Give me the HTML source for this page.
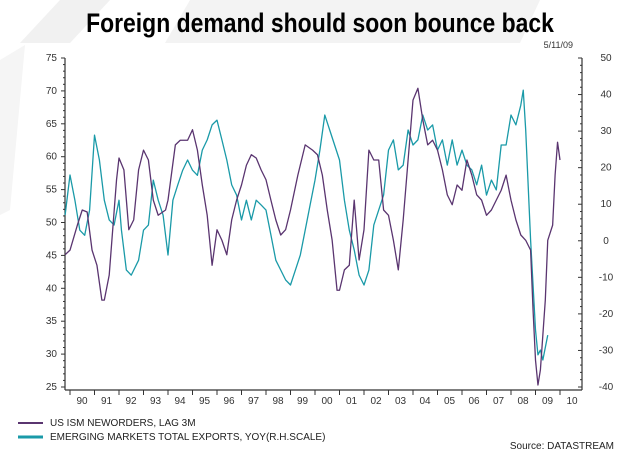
<!DOCTYPE html>
<html><head><meta charset="utf-8"><style>
body{margin:0;background:#fff;width:640px;height:454px;overflow:hidden;font-family:"Liberation Sans",sans-serif}
</style></head><body>
<svg width="640" height="454" xmlns="http://www.w3.org/2000/svg">
<polygon points="60,0 110,0 70,43 20,43" fill="#f1f1f1"/>
<polygon points="190,0 540,0 520,43 165,43" fill="#f3f3f3"/>
<polygon points="0,60 25,45 10,210 0,215" fill="#f5f5f5"/>
<text x="320" y="32" text-anchor="middle" font-size="27" font-family="Liberation Sans Narrow, Liberation Sans, sans-serif" font-weight="bold" transform="translate(320,0) scale(0.85,1) translate(-320,0)">Foreign demand should soon bounce back</text>
<text x="573" y="48" text-anchor="end" font-size="9" fill="#333">5/11/09</text>
<g id="axes"></g>
<g id="lines"></g>
<line x1="18" y1="423" x2="43" y2="423" stroke="#5a3570" stroke-width="2"/>
<text x="50" y="426" font-size="10" fill="#222">US ISM NEWORDERS, LAG 3M</text>
<line x1="18" y1="437" x2="43" y2="437" stroke="#1a9aa8" stroke-width="3"/>
<text x="50" y="440" font-size="10" fill="#222">EMERGING MARKETS TOTAL EXPORTS, YOY(R.H.SCALE)</text>
<text x="614" y="449" text-anchor="end" font-size="10" fill="#222">Source: DATASTREAM</text>
</svg>
<script>
const leftTicks=[25,30,35,40,45,50,55,60,65,70,75];
const rightTicks=[-40,-30,-20,-10,0,10,20,30,40,50];
const yearLabels=["90","91","92","93","94","95","96","97","98","99","00","01","02","03","04","05","06","07","08","09","10"];
const ismDates=[1989.8,1990,1990.3,1990.5,1990.7,1990.9,1991.1,1991.3,1991.4,1991.6,1991.9,1992,1992.2,1992.4,1992.6,1992.8,1993,1993.2,1993.4,1993.6,1993.9,1994,1994.3,1994.5,1994.8,1995,1995.2,1995.4,1995.6,1995.8,1996,1996.2,1996.4,1996.6,1996.8,1997,1997.2,1997.4,1997.6,1997.8,1998,1998.2,1998.4,1998.6,1998.8,1999,1999.3,1999.6,1999.9,2000.1,2000.3,2000.5,2000.7,2000.9,2001,2001.2,2001.4,2001.6,2001.8,2002,2002.2,2002.4,2002.6,2002.8,2003,2003.2,2003.4,2003.6,2003.8,2004,2004.2,2004.4,2004.6,2004.8,2005,2005.2,2005.4,2005.6,2005.8,2006,2006.2,2006.4,2006.6,2006.8,2007,2007.2,2007.4,2007.6,2007.8,2008,2008.2,2008.4,2008.6,2008.8,2008.9,2009,2009.1,2009.2,2009.4,2009.5,2009.7,2009.8,2009.9,2010];
const ismValues=[45.1,45.8,49.6,51.9,51.6,45.8,43.5,38.2,38.2,42.0,56.5,59.8,58.0,48.9,50.4,58.0,61.0,59.5,53.4,51.1,51.9,53.4,61.8,62.5,62.5,64.1,61.0,55.7,51.1,43.5,48.9,47.3,45.1,50.4,53.4,55.7,58.7,60.3,59.8,58.0,56.5,53.4,50.4,48.1,48.9,51.9,57.2,61.8,61.0,60.3,57.2,51.9,47.3,39.7,39.7,42.8,43.5,53.4,44.3,48.9,61.0,59.5,59.5,51.9,51.1,47.3,42.8,50.4,59.5,68.6,70.4,65.6,61.8,62.5,61.0,58.0,54.2,52.7,55.7,54.9,59.5,57.2,54.2,53.4,51.1,51.9,53.4,54.9,57.2,53.4,50.4,48.1,47.3,45.8,36.7,29.1,25.3,27.6,38.2,47.3,49.6,57.2,62.2,59.5];
const expDates=[1989.8,1990,1990.2,1990.4,1990.6,1990.8,1991,1991.2,1991.4,1991.6,1991.8,1992,1992.1,1992.3,1992.5,1992.8,1993,1993.2,1993.4,1993.6,1993.8,1994,1994.2,1994.4,1994.6,1994.8,1995,1995.2,1995.4,1995.6,1995.8,1996,1996.2,1996.4,1996.6,1996.8,1997,1997.2,1997.4,1997.6,1997.8,1998,1998.2,1998.4,1998.6,1998.8,1999,1999.2,1999.4,1999.6,1999.8,2000,2000.2,2000.4,2000.6,2000.8,2001,2001.2,2001.4,2001.6,2001.8,2002,2002.2,2002.4,2002.6,2002.8,2003,2003.2,2003.4,2003.6,2003.8,2004,2004.2,2004.4,2004.6,2004.8,2005,2005.2,2005.4,2005.6,2005.8,2006,2006.2,2006.4,2006.6,2006.8,2007,2007.2,2007.4,2007.6,2007.8,2008,2008.2,2008.4,2008.5,2008.6,2008.8,2009,2009.1,2009.2,2009.3,2009.5];
const expValues=[7.0,18.0,11.1,2.9,1.5,8.4,28.9,22.1,11.1,5.7,4.3,11.1,2.9,-8.0,-9.4,-5.3,2.9,4.3,16.6,11.1,7.0,-3.9,11.1,15.3,19.3,22.1,19.3,17.9,24.8,27.6,31.7,33.0,27.6,22.1,15.3,12.5,5.7,11.1,5.7,11.1,9.8,8.4,1.6,-5.3,-8.0,-10.7,-12.1,-8.0,-3.9,2.9,9.8,16.6,24.8,34.4,30.3,26.2,22.1,11.1,2.9,-2.5,-9.4,-12.1,-8.0,4.3,8.4,12.5,24.8,27.6,19.4,20.7,30.3,26.2,27.6,34.4,30.3,31.7,24.8,27.6,20.7,27.6,20.7,24.8,20.7,19.4,15.3,20.7,12.5,16.6,13.9,26.2,26.2,34.4,31.7,37.1,41.2,30.3,0.2,-24.4,-31.2,-29.9,-32.6,-25.8];

const NS="http://www.w3.org/2000/svg";
const X0=65,X1=582,YT=58,YB=387;
const xs=d=>70+(d-1990)*24.5;
const yl=v=>YB-(v-25)*(YB-YT)/50;
const yr=v=>YB-(v+40)*(YB-YT)/90;
function mk(tag,attrs,parent){const e=document.createElementNS(NS,tag);for(const k in attrs)e.setAttribute(k,attrs[k]);parent.appendChild(e);return e;}
const ax=document.getElementById('axes');
const la=mk('line',{x1:X0,y1:YT,x2:X0,y2:YB+3,stroke:'#333','stroke-width':1.2},ax);


const ra=mk('line',{x1:X1,y1:YT,x2:X1,y2:YB+3,stroke:'#333','stroke-width':1.2},ax);


const ba=mk('line',{x1:X0,y1:YB+3,x2:X1,y2:YB+3,stroke:'#333','stroke-width':1.2},ax);


for(let v=25;v<=75;v++){mk('line',{x1:X0,y1:yl(v),x2:X0-(v%5?2:4),y2:yl(v),stroke:'#333','stroke-width':1},ax);}
leftTicks.forEach(v=>{const t=mk('text',{x:X0-8,y:yl(v)+3,'text-anchor':'end','font-size':10,fill:'#333'},ax);t.textContent=v;

});
for(let v=-40;v<=50;v+=2){mk('line',{x1:X1,y1:yr(v),x2:X1-(v%10?2:4),y2:yr(v),stroke:'#333','stroke-width':1},ax);}
rightTicks.forEach(v=>{const t=mk('text',{x:X1+24,y:yr(v)+3,'text-anchor':'middle','font-size':10,fill:'#333'},ax);t.textContent=v;

});
yearLabels.forEach((s,i)=>{const x=xs(1990+i);mk('line',{x1:x,y1:YB+3,x2:x,y2:YB+8,stroke:'#333'},ax);
const t=mk('text',{x:x+12,y:YB+17,'text-anchor':'middle','font-size':10,fill:'#333'},ax);t.textContent=s;

});
const lg=document.getElementById('lines');
const ep=mk('polyline',{points:expDates.map((d,i)=>xs(d)+','+yr(expValues[i])).join(' '),fill:'none',stroke:'#1a9aa8','stroke-width':1.3,'stroke-linejoin':'round'},lg);


const ip=mk('polyline',{points:ismDates.map((d,i)=>xs(d)+','+yl(ismValues[i])).join(' '),fill:'none',stroke:'#5a3570','stroke-width':1.3,'stroke-linejoin':'round'},lg);


</script>
</body></html>
